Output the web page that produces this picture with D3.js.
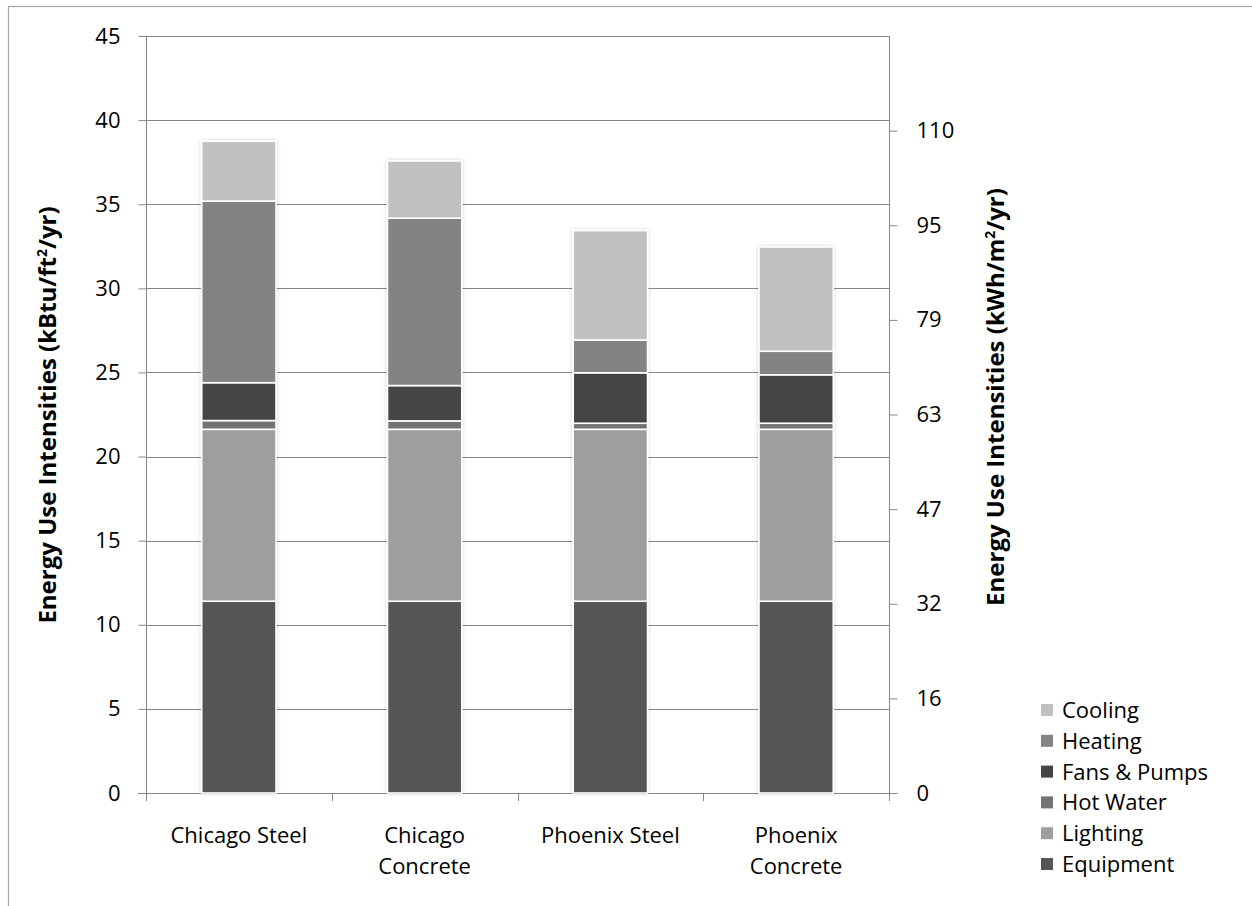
<!DOCTYPE html>
<html><head><meta charset="utf-8">
<script src="https://cdn.jsdelivr.net/npm/d3@7"></script>
<style>body{margin:0;background:#fff}svg text{font-family:"Open Sans",Lato,sans-serif;fill:#000}</style>
</head><body><svg id="c" width="1252" height="906"></svg>
<script>
const categories = [["Chicago Steel"], ["Chicago","Concrete"], ["Phoenix Steel"], ["Phoenix","Concrete"]];
const catKeys = ["Chicago Steel","Chicago Concrete","Phoenix Steel","Phoenix Concrete"];
const seriesNames = ["Equipment","Lighting","Hot Water","Fans & Pumps","Heating","Cooling"];
const equipment = [11.4, 11.4, 11.4, 11.4];
const lighting  = [10.22, 10.22, 10.22, 10.22];
const hotWater  = [0.52, 0.5, 0.36, 0.36];
const fansPumps = [2.25, 2.1, 3.0, 2.88];
const heating   = [10.8, 9.95, 1.95, 1.4];
const cooling   = [3.55, 3.4, 6.5, 6.2];
const colors = ["#555555","#9e9e9e","#737373","#454545","#838383","#c0c0c0"];
const leftTicks = [0,5,10,15,20,25,30,35,40,45];
const rightMax = 126.2;
const rightTickLabels = ["0","16","32","47","63","79","95","110"];

const seriesVals = [equipment, lighting, hotWater, fansPumps, heating, cooling];
const rows = catKeys.map((k,i)=>{const o={cat:k}; seriesNames.forEach((s,j)=>o[s]=seriesVals[j][i]); return o;});
const stack = d3.stack().keys(seriesNames)(rows);

const svg = d3.select("#c");
const FS = "22px";
const m = {l:146, r:889, t:36, b:793};
const x = d3.scaleBand().domain(catKeys).range([m.l, m.r]).paddingInner(0.6).paddingOuter(0.3);
const y = d3.scaleLinear().domain([0,45]).range([m.b, m.t]);
const y2 = d3.scaleLinear().domain([0,rightMax]).range([m.b, m.t]);

// outer border
svg.append("rect").attr("x",8.5).attr("y",6.5).attr("width",1400).attr("height",1000)
  .attr("fill","none").attr("stroke","#a6a6a6").attr("stroke-width",1.2);

const defs = svg.append("defs");
const f = defs.append("filter").attr("id","sh").attr("x","-20%").attr("y","-5%").attr("width","140%").attr("height","110%");
f.append("feDropShadow").attr("dx",0).attr("dy",0).attr("stdDeviation",2).attr("flood-color","#000").attr("flood-opacity",0.18);

// gridlines
svg.append("g").selectAll("line").data(leftTicks).join("line")
  .attr("x1",m.l).attr("x2",m.r).attr("y1",d=>Math.round(y(d))+0.5).attr("y2",d=>Math.round(y(d))+0.5)
  .attr("stroke","#868686").attr("stroke-width",1);

// left axis
const gl = svg.append("g").attr("transform",`translate(${m.l+0.5},0)`)
  .call(d3.axisLeft(y).tickValues(leftTicks).tickSize(8).tickPadding(18).tickFormat(d3.format("d")));
gl.select(".domain").attr("stroke","#868686").attr("d",`M0,${m.t}V${m.b}`);
gl.selectAll(".tick line").attr("stroke","#868686");
gl.selectAll(".tick text").style("font-size",FS);

// right axis
const rt = d3.range(rightTickLabels.length).map(i=>i*rightMax/8);
const gr = svg.append("g").attr("transform",`translate(${m.r+0.5},0)`)
  .call(d3.axisRight(y2).tickValues(rt).tickSize(8).tickPadding(19).tickFormat((d,i)=>rightTickLabels[i]));
gr.select(".domain").attr("stroke","#868686").attr("d",`M0,${m.t}V${m.b}`);
gr.selectAll(".tick line").attr("stroke","#868686");
gr.selectAll(".tick text").style("font-size",FS);

// bottom axis ticks at category boundaries
const bounds = d3.range(catKeys.length+1).map(i=>m.l + i*(m.r-m.l)/catKeys.length);
svg.append("g").selectAll("line").data(bounds).join("line")
  .attr("x1",d=>Math.round(d)+0.5).attr("x2",d=>Math.round(d)+0.5).attr("y1",m.b).attr("y2",m.b+8)
  .attr("stroke","#868686");
svg.append("line").attr("x1",m.l-8).attr("x2",m.r+8).attr("y1",m.b+0.5).attr("y2",m.b+0.5).attr("stroke","#868686");

// bars
const gb = svg.append("g").attr("filter","url(#sh)");
stack.forEach((s,j)=>{
  gb.append("g").selectAll("rect").data(s).join("rect")
    .attr("x",d=>x(d.data.cat)).attr("width",x.bandwidth())
    .attr("y",d=>y(d[1])).attr("height",d=>y(d[0])-y(d[1]))
    .attr("fill",colors[j]).attr("stroke","#fff").attr("stroke-width",1.6);
});

// category labels
catKeys.forEach((k,i)=>{
  const cx = x(k)+x.bandwidth()/2;
  const t = svg.append("text").attr("text-anchor","middle").style("font-size",FS);
  categories[i].forEach((line,li)=>t.append("tspan").attr("x",cx).attr("y",843+li*31).text(line));
});

// axis titles
const lt = svg.append("text").attr("transform","translate(56,415) rotate(-90)").attr("text-anchor","middle")
  .style("font-size","24px").style("font-weight","bold");
lt.append("tspan").text("Energy Use Intensities (kBtu/ft");
lt.append("tspan").attr("baseline-shift","super").style("font-size","14px").text("2");
lt.append("tspan").text("/yr)");
const rtt = svg.append("text").attr("transform","translate(1004,397) rotate(-90)").attr("text-anchor","middle")
  .style("font-size","24px").style("font-weight","bold");
rtt.append("tspan").text("Energy Use Intensities (kWh/m");
rtt.append("tspan").attr("baseline-shift","super").style("font-size","14px").text("2");
rtt.append("tspan").text("/yr)");

// legend
const legOrder = seriesNames.map((s,i)=>({s,c:colors[i]})).reverse();
const lg = svg.append("g");
legOrder.forEach((d,i)=>{
  const yy = 710 + i*30.8;
  lg.append("rect").attr("x",1041).attr("y",yy-6).attr("width",12).attr("height",12).attr("fill",d.c);
  lg.append("text").attr("x",1062).attr("y",yy+8).style("font-size",FS).text(d.s);
});
</script></body></html>
